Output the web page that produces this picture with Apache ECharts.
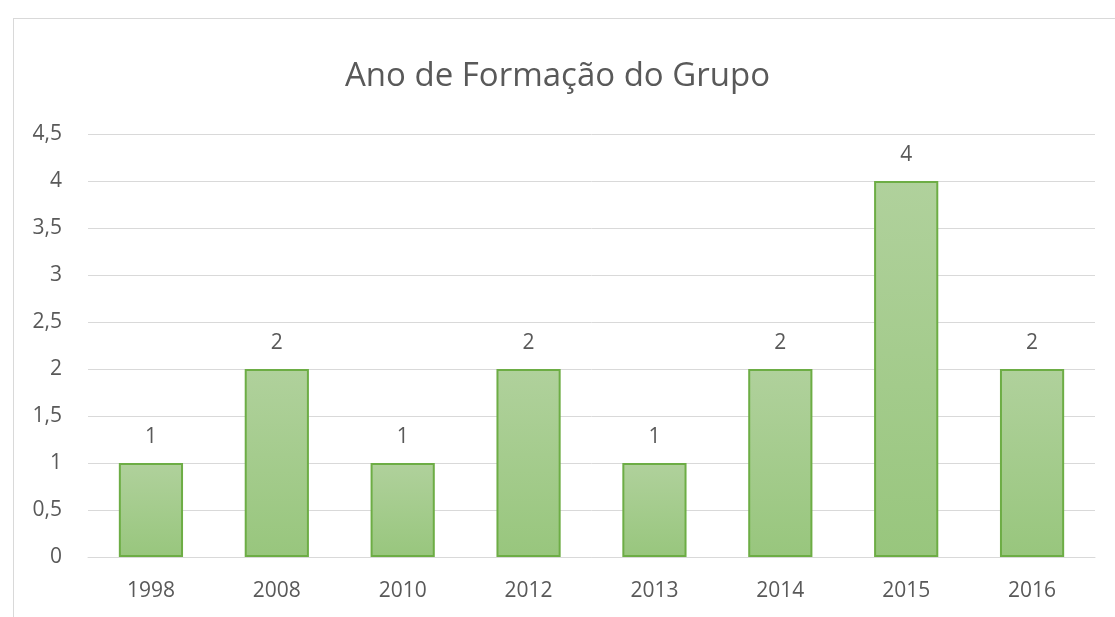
<!DOCTYPE html>
<html>
<head>
<meta charset="utf-8">
<script src="https://cdn.jsdelivr.net/npm/echarts@6/dist/echarts.min.js"></script>
<style>
  html, body { margin: 0; padding: 0; background: #fff; }
  #frame { position: absolute; left: 13px; top: 18px; width: 1102px; height: 599px;
           border-top: 1px solid #d9d9d9; border-left: 1px solid #d9d9d9; box-sizing: border-box; }
  #chart { position: absolute; left: 0; top: 0; width: 1115px; height: 617px; }
</style>
</head>
<body>
<div id="frame"></div>
<div id="chart"></div>
<script>
// Year each group was formed and how many groups
const years = ['1998', '2008', '2010', '2012', '2013', '2014', '2015', '2016'];
const groupCounts = [1, 2, 1, 2, 1, 2, 4, 2];
const chartTitle = 'Ano de Formação do Grupo';

const textColor = '#595959';
const fontFamily = 'Open Sans, Lato, sans-serif';

const chart = echarts.init(document.getElementById('chart'), null, { renderer: 'canvas' });
chart.setOption({
  animation: false,
  title: {
    text: chartTitle,
    left: 'center',
    top: 55,
    textStyle: { color: textColor, fontSize: 33, fontWeight: 'normal', fontFamily }
  },
  grid: { left: 88, right: 20, top: 134, bottom: 60 },
  xAxis: {
    type: 'category',
    data: years,
    axisLine: { show: true, lineStyle: { color: '#d9d9d9', width: 1 } },
    axisTick: { show: false },
    axisLabel: { color: textColor, fontSize: 21, margin: 24, fontFamily }
  },
  yAxis: {
    type: 'value',
    min: 0,
    max: 4.5,
    interval: 0.5,
    axisLine: { show: false },
    axisTick: { show: false },
    splitLine: { lineStyle: { color: '#d9d9d9', width: 1 } },
    axisLabel: {
      color: textColor, fontSize: 21, margin: 26, fontFamily,
      formatter: v => String(v).replace('.', ',')
    }
  },
  series: [{
    type: 'bar',
    data: groupCounts,
    barWidth: '51%',
    itemStyle: {
      color: new echarts.graphic.LinearGradient(0, 0, 0, 1, [
        { offset: 0, color: '#b0d19c' },
        { offset: 1, color: '#98c67d' }
      ]),
      borderColor: '#6dad45',
      borderWidth: 2
    },
    label: {
      show: true,
      position: 'top',
      distance: 15,
      color: textColor,
      fontSize: 21,
      fontFamily
    }
  }]
});
</script>
</body>
</html>
